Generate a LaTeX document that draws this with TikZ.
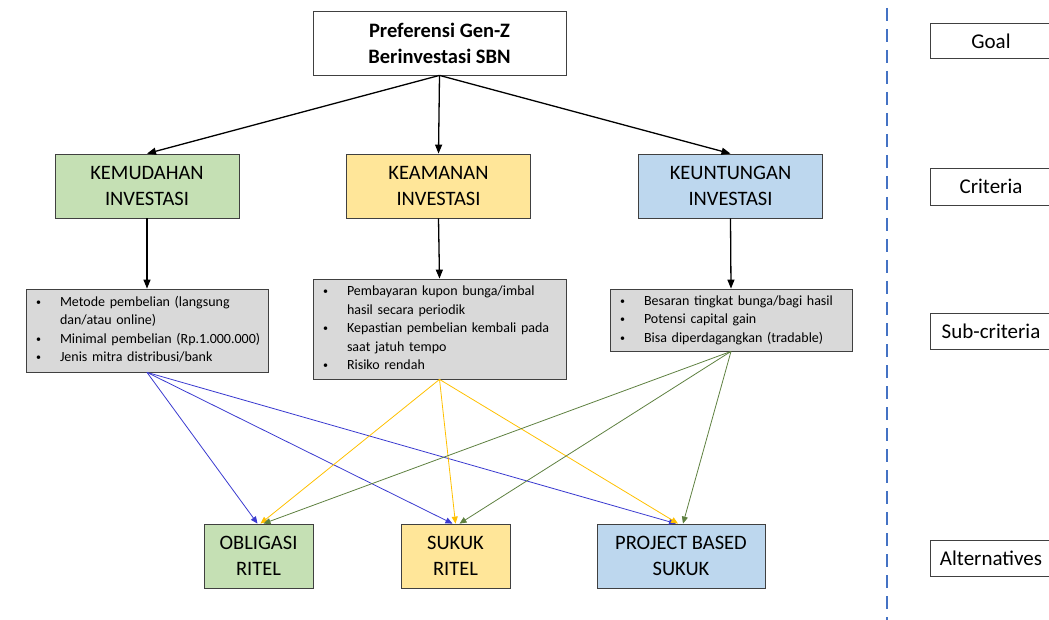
\documentclass[tikz,border=0pt]{standalone}
\usepackage{fontspec}
\setmainfont{Carlito}
\usetikzlibrary{arrows.meta}
\definecolor{cgreen}{HTML}{C5E0B4}
\definecolor{cyellow}{HTML}{FFE699}
\definecolor{cblue}{HTML}{BDD7EE}
\definecolor{cgray}{HTML}{D9D9D9}
\definecolor{lblue}{HTML}{3A3AD0}
\definecolor{lyellow}{HTML}{FFC000}
\definecolor{lgreen}{HTML}{5E8040}
\definecolor{dashblue}{HTML}{4472C4}
\tikzset{
  box/.style={draw=black!75, line width=0.8pt, inner sep=0pt, align=center, font=\fontsize{20.5}{26}\selectfont},
  subbox/.style={draw=black!75, fill=cgray, line width=0.8pt, inner xsep=9pt, inner ysep=0pt, align=left, font=\fontsize{14}{18.5}\selectfont},
  lvl/.style={draw=black!75, line width=0.6pt, inner sep=0pt},
  lvltext/.style={font=\fontsize{21}{24}\selectfont},
  mainarrow/.style={line width=1.3pt, -{Triangle[length=9pt,width=7pt]}},
  carrow/.style={line width=0.8pt, -{Triangle[length=7pt,width=6pt]}}
}
\newcommand{\bl}{\makebox[25pt][l]{\hspace{1pt}\raisebox{1pt}{\fontsize{10}{10}\selectfont\textbullet}}}
\begin{document}
\begin{tikzpicture}[x=1pt,y=-1pt]
\useasboundingbox (0,0) rectangle (1049,620);
\clip (0,0) rectangle (1049,620);

% goal
\node[box, minimum width=253pt, minimum height=64pt, font=\fontsize{20.5}{26}\selectfont\bfseries] (goal) at (439.5,43) {Preferensi Gen-Z\\Berinvestasi SBN};

% criteria
\node[box, fill=cgreen, minimum width=184pt, minimum height=64pt] (c1) at (147,186) {KEMUDAHAN\\INVESTASI};
\node[box, fill=cyellow, minimum width=184pt, minimum height=64pt] (c2) at (438.5,186) {KEAMANAN\\INVESTASI};
\node[box, fill=cblue, minimum width=184pt, minimum height=64pt] (c3) at (730.5,186) {KEUNTUNGAN\\INVESTASI};

% sub-criteria
\node[subbox, text width=224pt, minimum height=83pt] (s1) at (147,330.5) {%
\begin{tabular}{@{}l@{}l@{}}
\bl & Metode pembelian (langsung\\
    & dan/atau online)\\
\bl & Minimal pembelian (Rp.1.000.000)\\
\bl & Jenis mitra distribusi/bank
\end{tabular}};
\node[subbox, text width=235pt, minimum height=100pt] (s2) at (439.5,329) {%
\begin{tabular}{@{}l@{}l@{}}
\bl & Pembayaran kupon bunga/imbal\\
    & hasil secara periodik\\
\bl & Kepastian pembelian kembali pada\\
    & saat jatuh tempo\\
\bl & Risiko rendah
\end{tabular}};
\node[subbox, text width=224pt, minimum height=62pt] (s3) at (731,320) {%
\begin{tabular}{@{}l@{}l@{}}
\bl & Besaran tingkat bunga/bagi hasil\\
\bl & Potensi capital gain\\
\bl & Bisa diperdagangkan (tradable)
\end{tabular}};

% alternatives
\node[box, fill=cgreen, minimum width=109pt, minimum height=64pt] (a1) at (258.5,556) {OBLIGASI\\RITEL};
\node[box, fill=cyellow, minimum width=109pt, minimum height=64pt] (a2) at (455.5,556) {SUKUK\\RITEL};
\node[box, fill=cblue, minimum width=168pt, minimum height=64pt] (a3) at (681,556) {PROJECT BASED\\SUKUK};

% main arrows
\draw[mainarrow] (goal.south) -- (c1.north);
\draw[mainarrow] (goal.south) -- (c2.north);
\draw[mainarrow] (goal.south) -- (c3.north);
\draw[mainarrow] (c1.south) -- (s1.north);
\draw[mainarrow] (c2.south) -- (s2.north);
\draw[mainarrow] (c3.south) -- (s3.north);

% coloured connectors
\begin{scope}[carrow]
\draw[lblue] (s1.south) -- ([xshift=-1pt]a1.north);
\draw[lblue] (s1.south) -- ([xshift=-3pt]a2.north);
\draw[lblue] (s1.south) -- ([xshift=-5pt]a3.north);
\draw[lyellow] (s2.south) -- ([xshift=2pt]a1.north);
\draw[lyellow] (s2.south) -- ([xshift=0pt]a2.north);
\draw[lyellow] (s2.south) -- ([xshift=-3pt]a3.north);
\draw[lgreen] (s3.south) -- ([xshift=5pt]a1.north);
\draw[lgreen] (s3.south) -- ([xshift=4pt]a2.north);
\draw[lgreen] (s3.south) -- ([xshift=2pt]a3.north);
\end{scope}

% dashed separator
\coordinate (dtop) at (887,8);
\coordinate (dbot) at (887,620);
\draw[dashblue, line width=2.6pt, dash pattern=on 13pt off 8pt] (dtop) -- (dbot);

% level labels
\node[lvl, minimum width=140pt, minimum height=35pt, anchor=west] (lg) at (930,41) {};
\node[lvltext] (lgt) at (991,41) {Goal};
\node[lvl, minimum width=140pt, minimum height=37pt, anchor=west] (lc) at (930,186.5) {};
\node[lvltext] (lct) at (991,186.5) {Criteria};
\node[lvl, minimum width=140pt, minimum height=36pt, anchor=west] (ls) at (930,331) {};
\node[lvltext] (lst) at (991,331) {Sub-criteria};
\node[lvl, minimum width=140pt, minimum height=36pt, anchor=west] (la) at (930,558) {};
\node[lvltext] (lat) at (991,558) {Alternatives};
\end{tikzpicture}
\end{document}
